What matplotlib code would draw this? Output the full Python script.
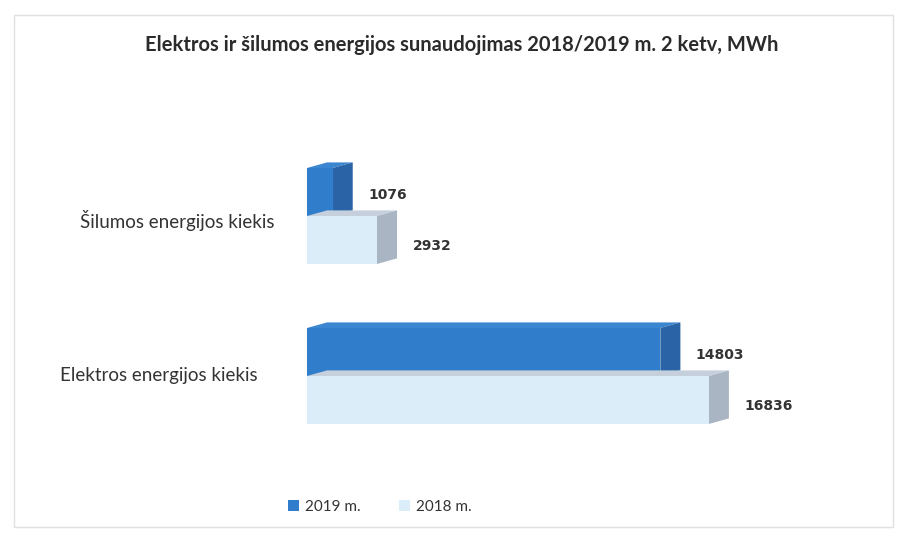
import matplotlib
matplotlib.use("Agg")
import matplotlib.pyplot as plt
from matplotlib.patches import Polygon, Rectangle, Patch

categories = ["Elektros energijos kiekis", "Šilumos energijos kiekis"]
series_names = ["2019 m.", "2018 m."]
values_2019 = [14803, 1076]
values_2018 = [16836, 2932]
title = "Elektros ir šilumos energijos sunaudojimas 2018/2019 m. 2 ketv, MWh"

plt.rcParams['font.family'] = ['Lato', 'DejaVu Sans']

fig = plt.figure(figsize=(8.98, 5.38), dpi=100)
fig.patch.set_facecolor("white")

# frame around chart area
fig.add_artist(Rectangle((14 / 898, 1 - 527 / 538), (893 - 14) / 898, (527 - 15) / 538,
                         transform=fig.transFigure, fill=False, edgecolor="#e0e0e0", lw=1))

ax = fig.add_axes([307 / 898, 1 - 472 / 538, 549 / 898, 352 / 538])
ax.set_xlim(0, 23000)
ax.set_ylim(-0.6, 1.6)
ax.axis("off")

h = 0.30
dx = 840     # depth in x (data units)
dy = 0.035   # depth in y (data units)

styles = {
    "2019 m.": dict(front="#2f7dcb", side="#2a64a6", top="#3a86d0"),
    "2018 m.": dict(front="#dcedfa", side="#aab5c3", top="#c5d0dc"),
}

def bar3d(y0, v, st):
    top = Polygon([(0, y0 + h), (v, y0 + h), (v + dx, y0 + h + dy), (dx, y0 + h + dy)],
                  closed=True, facecolor=st["top"], edgecolor="none")
    side = Polygon([(v, y0), (v + dx, y0 + dy), (v + dx, y0 + h + dy), (v, y0 + h)],
                   closed=True, facecolor=st["side"], edgecolor="none")
    ax.add_patch(top)
    ax.add_patch(side)
    ax.barh(y0 + h / 2, v, height=h, left=0, color=st["front"], edgecolor="none")

for i, cat in enumerate(categories):
    v19 = values_2019[i]
    v18 = values_2018[i]
    y19 = i
    y18 = i - h
    bar3d(y19, v19, styles["2019 m."])
    bar3d(y18, v18, styles["2018 m."])
    ax.text(v19 + dx + 650, y19 + h / 2 - 0.02, str(v19), fontsize=10, fontweight="bold",
            color="#333333", va="center", ha="left", family=["DejaVu Sans"])
    ax.text(v18 + dx + 650, y18 + h / 2 - 0.04, str(v18), fontsize=10, fontweight="bold",
            color="#333333", va="center", ha="left", family=["DejaVu Sans"])

# category labels
ax.text(-1350, 1.0 - 0.03, categories[1], fontsize=13.5, color="#333333", ha="right", va="center")
ax.text(-2050, 0.0, categories[0], fontsize=13.5, color="#333333", ha="right", va="center")

fig.text(462 / 898, 1 - 45 / 538, title, fontsize=14.5, fontweight="bold", color="#2b2b2b",
         ha="center", va="center")

handles = [Patch(facecolor=styles[n]["front"], edgecolor="none") for n in series_names]
leg = fig.legend(handles, series_names, loc="center", bbox_to_anchor=(380 / 898, 1 - 507 / 538),
                 ncol=2, frameon=False, fontsize=11, handlelength=0.7, handleheight=0.7,
                 handletextpad=0.4, columnspacing=2.5)
for t in leg.get_texts():
    t.set_color("#333333")

fig.savefig("out.png", dpi=100, facecolor="white")
